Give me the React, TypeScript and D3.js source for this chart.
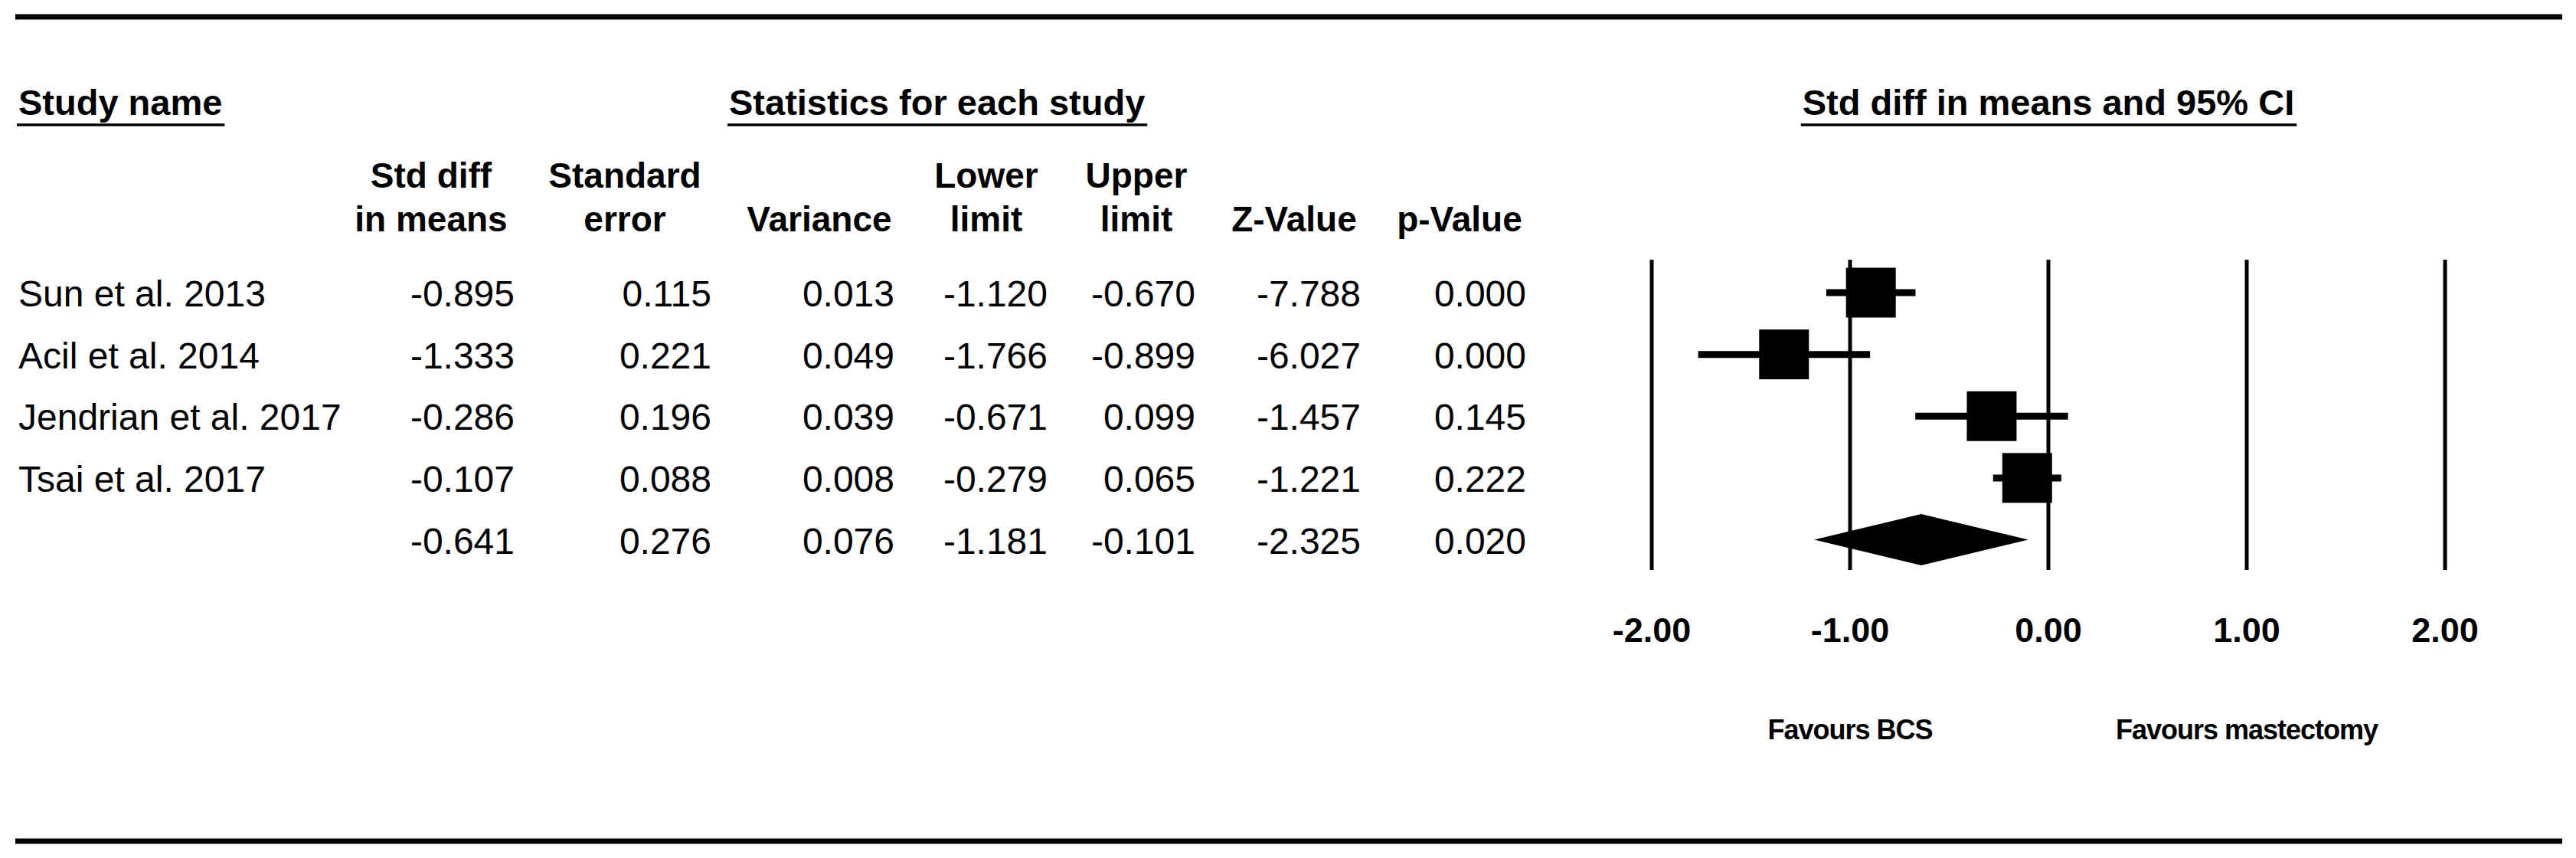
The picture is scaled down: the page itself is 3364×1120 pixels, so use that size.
import React, { useEffect, useRef } from "react";
import * as d3 from "d3";

// ---- data ----
const studies = ["Sun et al. 2013", "Acil et al. 2014", "Jendrian et al. 2017", "Tsai et al. 2017"];
const stdDiff = [-0.895, -1.333, -0.286, -0.107];
const stdErr = [0.115, 0.221, 0.196, 0.088];
const variance = [0.013, 0.049, 0.039, 0.008];
const lowerLimit = [-1.12, -1.766, -0.671, -0.279];
const upperLimit = [-0.67, -0.899, 0.099, 0.065];
const zValue = [-7.788, -6.027, -1.457, -1.221];
const pValue = [0.0, 0.0, 0.145, 0.222];
// summary (random effects): std diff, SE, variance, lower, upper, Z, p
const summaryRow = [-0.641, 0.276, 0.076, -1.181, -0.101, -2.325, 0.02];
const axisTicks = [-2, -1, 0, 1, 2];
const favourLabels = ["Favours BCS", "Favours mastectomy"];
const favourAt = [-1, 1];
const columnHeaders = [
  ["Std diff", "in means"],
  ["Standard", "error"],
  ["Variance"],
  ["Lower", "limit"],
  ["Upper", "limit"],
  ["Z-Value"],
  ["p-Value"],
];
const sectionTitles = ["Study name", "Statistics for each study", "Std diff in means and 95% CI"];

// ---- layout ----
const W = 3364;
const H = 1120;
const FONT = "'Liberation Sans', Arial, sans-serif";
const colRight = [672, 929, 1168, 1368, 1561, 1777, 1993];
const colHeaderCenter = [563, 816, 1070, 1288, 1484, 1690, 1906];

export default function App() {
  const ref = useRef<SVGSVGElement | null>(null);

  useEffect(() => {
    const svg = d3.select(ref.current);
    svg.selectAll("*").remove();

    const x = d3.scaleLinear().domain([-2, 2]).range([2157, 3193]);
    const y = d3.scaleLinear().domain([0, 4]).range([382, 704.5]);

    // horizontal rules
    svg.append("line").attr("x1", 20).attr("x2", 3346).attr("y1", 22).attr("y2", 22)
      .attr("stroke", "#000").attr("stroke-width", 7);
    svg.append("line").attr("x1", 20).attr("x2", 3346).attr("y1", 1098).attr("y2", 1098)
      .attr("stroke", "#000").attr("stroke-width", 7);

    // section titles with underline
    const titleX = [24, 952, x(0)];
    const titleAnchor = ["start", "start", "middle"];
    sectionTitles.forEach((t, i) => {
      const txt = svg.append("text")
        .attr("x", titleX[i]).attr("y", 150)
        .attr("text-anchor", titleAnchor[i])
        .attr("font-family", FONT).attr("font-weight", "bold").attr("font-size", 47)
        .attr("fill", "#000").text(t);
      const bb = (txt.node() as SVGTextElement).getBBox();
      svg.append("line").attr("x1", bb.x - 2).attr("x2", bb.x + bb.width + 3)
        .attr("y1", 163).attr("y2", 163).attr("stroke", "#000").attr("stroke-width", 3.5);
    });

    // column headers
    columnHeaders.forEach((lines, i) => {
      const baseYs = lines.length === 2 ? [245, 302] : [302];
      lines.forEach((ln, j) => {
        svg.append("text")
          .attr("x", colHeaderCenter[i]).attr("y", baseYs[j])
          .attr("text-anchor", "middle")
          .attr("font-family", FONT).attr("font-weight", "bold").attr("font-size", 46)
          .attr("fill", "#000").text(ln);
      });
    });

    // table rows
    const baseline = (i: number) => y(i) + 18;
    const cols = [stdDiff, stdErr, variance, lowerLimit, upperLimit, zValue, pValue];
    studies.forEach((s, i) => {
      svg.append("text").attr("x", 24).attr("y", baseline(i))
        .attr("font-family", FONT).attr("font-size", 48).attr("fill", "#000").text(s);
      cols.forEach((c, k) => {
        svg.append("text").attr("x", colRight[k]).attr("y", baseline(i))
          .attr("text-anchor", "end")
          .attr("font-family", FONT).attr("font-size", 48).attr("fill", "#000")
          .text(c[i].toFixed(3));
      });
    });
    summaryRow.forEach((v, k) => {
      svg.append("text").attr("x", colRight[k]).attr("y", baseline(4))
        .attr("text-anchor", "end")
        .attr("font-family", FONT).attr("font-size", 48).attr("fill", "#000")
        .text(v.toFixed(3));
    });

    // forest plot gridlines
    svg.append("g").selectAll("line").data(axisTicks).join("line")
      .attr("x1", (d) => x(d)).attr("x2", (d) => x(d))
      .attr("y1", 339).attr("y2", 744)
      .attr("stroke", "#000").attr("stroke-width", 5);

    // CI lines
    svg.append("g").selectAll("line").data(studies).join("line")
      .attr("x1", (_d, i) => x(lowerLimit[i])).attr("x2", (_d, i) => x(upperLimit[i]))
      .attr("y1", (_d, i) => y(i)).attr("y2", (_d, i) => y(i))
      .attr("stroke", "#000").attr("stroke-width", 9);

    // squares
    const side = 65;
    svg.append("g").selectAll("rect").data(studies).join("rect")
      .attr("x", (_d, i) => x(stdDiff[i]) - side / 2)
      .attr("y", (_d, i) => y(i) - side / 2)
      .attr("width", side).attr("height", side).attr("fill", "#000");

    // summary diamond
    const cy = y(4);
    const hh = 33.5;
    const pts: [number, number][] = [
      [x(summaryRow[3]), cy],
      [x(summaryRow[0]), cy - hh],
      [x(summaryRow[4]), cy],
      [x(summaryRow[0]), cy + hh],
    ];
    svg.append("path").attr("d", d3.line()(pts) + "Z").attr("fill", "#000");

    // axis tick labels
    svg.append("g").selectAll("text").data(axisTicks).join("text")
      .attr("x", (d) => x(d)).attr("y", 838)
      .attr("text-anchor", "middle")
      .attr("font-family", FONT).attr("font-weight", "bold").attr("font-size", 45)
      .attr("fill", "#000").text((d) => d.toFixed(2));

    // favours labels
    svg.append("g").selectAll("text").data(favourLabels).join("text")
      .attr("x", (_d, i) => x(favourAt[i])).attr("y", 965)
      .attr("text-anchor", "middle")
      .attr("font-family", FONT).attr("font-weight", "bold").attr("font-size", 36)
      .attr("letter-spacing", -1)
      .attr("fill", "#000").text((d) => d);
  }, []);

  return (
    <svg
      ref={ref}
      width={W}
      height={H}
      viewBox={`0 0 ${W} ${H}`}
      style={{ position: "absolute", left: 0, top: 0, background: "#fff" }}
    />
  );
}
